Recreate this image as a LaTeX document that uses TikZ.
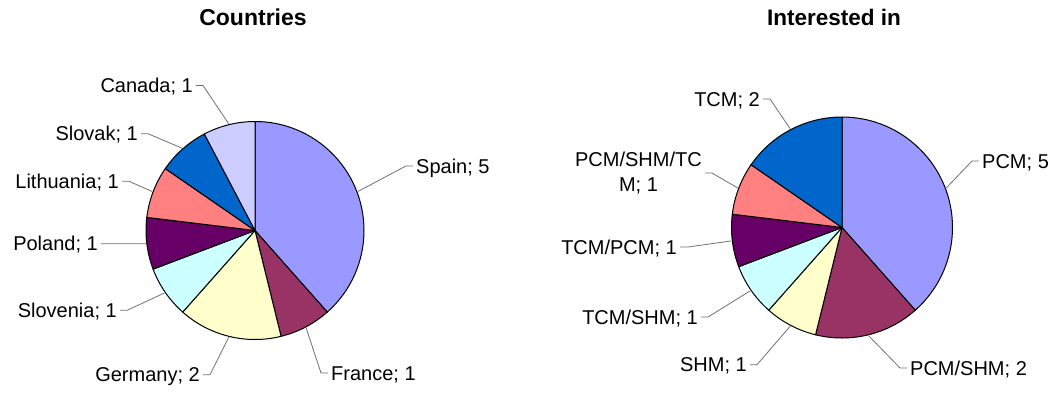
\documentclass[tikz,border=0pt]{standalone}
\usepackage{fontspec}
\setmainfont{Liberation Sans}
\usetikzlibrary{calc}
\definecolor{cA}{HTML}{9999FF}
\definecolor{cB}{HTML}{993366}
\definecolor{cC}{HTML}{FFFFCC}
\definecolor{cD}{HTML}{CCFFFF}
\definecolor{cE}{HTML}{660066}
\definecolor{cF}{HTML}{FF8080}
\definecolor{cG}{HTML}{0066CC}
\definecolor{cH}{HTML}{CCCCFF}
\definecolor{leadgray}{HTML}{707070}
\tikzset{
  lbl/.style={font=\fontsize{20}{25}\selectfont, inner xsep=3pt, inner ysep=0pt, text height=14pt, text depth=0pt},
  lblml/.style={font=\fontsize{20}{25}\selectfont, inner xsep=3pt, inner ysep=0pt, align=center},
  leader/.style={draw=leadgray, line width=0.8pt},
  slice/.style={draw=black, line width=1pt, line join=round},
  ttl/.style={font=\fontsize{23}{28}\selectfont\bfseries, anchor=base, inner sep=0pt}
}
\newcommand{\mypieslice}[5]{% center, radius, start, end, color
  \filldraw[slice, fill=#5] (#1) -- ($(#1)+(#3:#2)$) arc[start angle=#3, end angle=#4, radius=#2] -- cycle;}
\begin{document}
\begin{tikzpicture}[x=1pt,y=1pt]
\useasboundingbox (0,0) rectangle (1057,-392);
% titles
\node[ttl] (t1) at (253,-25) {Countries};
\node[ttl, font=\fontsize{22.5}{27}\selectfont\bfseries] (t2) at (834,-25) {Interested in};
% left pie
\coordinate (L) at (255,-230.5);
\mypieslice{L}{109}{90}{-48.4615}{cA}
\mypieslice{L}{109}{-48.4615}{-76.1538}{cB}
\mypieslice{L}{109}{-76.1538}{-131.5385}{cC}
\mypieslice{L}{109}{-131.5385}{-159.2308}{cD}
\mypieslice{L}{109}{-159.2308}{-186.9231}{cE}
\mypieslice{L}{109}{-186.9231}{-214.6154}{cF}
\mypieslice{L}{109}{-214.6154}{-242.3077}{cG}
\mypieslice{L}{109}{-242.3077}{-270}{cH}
\coordinate (eSpain) at ($(L)+(20.77:110)$);
\coordinate (eFrance) at ($(L)+(-62.31:110)$);
\coordinate (eGermany) at ($(L)+(-103.85:110)$);
\coordinate (eSlovenia) at ($(L)+(-145.38:110)$);
\coordinate (ePoland) at ($(L)+(-173.08:110)$);
\coordinate (eLithuania) at ($(L)+(-200.77:110)$);
\coordinate (eSlovak) at ($(L)+(-228.46:110)$);
\coordinate (eCanada) at ($(L)+(-256.15:110)$);
\node[lbl, anchor=base west] (lSpain) at (413,-173) {Spain; 5};
\node[lbl, anchor=base west] (lFrance) at (328,-380) {France; 1};
\node[lbl, anchor=base east] (lGermany) at (203,-381.7) {Germany; 2};
\node[lbl, anchor=base east] (lSlovenia) at (120,-317.3) {Slovenia; 1};
\node[lbl, anchor=base east] (lPoland) at (101,-250.7) {Poland; 1};
\node[lbl, anchor=base east] (lLithuania) at (122,-188.3) {Lithuania; 1};
\node[lbl, anchor=base east] (lSlovak) at (141,-140.7) {Slovak; 1};
\node[lbl, anchor=base east] (lCanada) at (196,-92.5) {Canada; 1};
\draw[leader] (lSpain.west) -- ++(-7,0) -- (eSpain);
\draw[leader] (lFrance.west) -- ++(-7,0) -- (eFrance);
\draw[leader] (lGermany.east) -- ++(7,0) -- (eGermany);
\draw[leader] (lSlovenia.east) -- ++(7,0) -- (eSlovenia);
\draw[leader] (lPoland.east) -- ++(7,0) -- (ePoland);
\draw[leader] (lLithuania.east) -- ++(7,0) -- (eLithuania);
\draw[leader] (lSlovak.east) -- ++(7,0) -- (eSlovak);
\draw[leader] (lCanada.east) -- ++(7,0) -- (eCanada);
% right pie
\coordinate (R) at (842,-227.5);
\mypieslice{R}{110.5}{90}{-48.4615}{cA}
\mypieslice{R}{110.5}{-48.4615}{-103.8462}{cB}
\mypieslice{R}{110.5}{-103.8462}{-131.5385}{cC}
\mypieslice{R}{110.5}{-131.5385}{-159.2308}{cD}
\mypieslice{R}{110.5}{-159.2308}{-186.9231}{cE}
\mypieslice{R}{110.5}{-186.9231}{-214.6154}{cF}
\mypieslice{R}{110.5}{-214.6154}{-270}{cG}
\coordinate (ePCM) at ($(R)+(20.77:111.5)$);
\coordinate (ePS) at ($(R)+(-76.15:111.5)$);
\coordinate (eSHM) at ($(R)+(-117.69:111.5)$);
\coordinate (eTS) at ($(R)+(-145.38:111.5)$);
\coordinate (eTP) at ($(R)+(-173.08:111.5)$);
\coordinate (ePST) at ($(R)+(-200.77:111.5)$);
\coordinate (eTCM) at ($(R)+(-242.31:111.5)$);
\node[lbl, anchor=base west] (lPCM) at (979,-168) {PCM; 5};
\node[lbl, anchor=base west] (lPS) at (907,-375) {PCM/SHM; 2};
\node[lbl, anchor=base east] (lSHM) at (750,-371.7) {SHM; 1};
\node[lbl, anchor=base east] (lTS) at (701,-324) {TCM/SHM; 1};
\node[lbl, anchor=base east] (lTP) at (680,-254) {TCM/PCM; 1};
\node[lblml, anchor=east] (lPST) at (705,-173) {PCM/SHM/TC\\M; 1};
\node[lbl, anchor=base east] (lTCM) at (763,-106) {TCM; 2};
\draw[leader] (lPCM.west) -- ++(-7,0) -- (ePCM);
\draw[leader] (lPS.west) -- ++(-7,0) -- (ePS);
\draw[leader] (lSHM.east) -- ++(7,0) -- (eSHM);
\draw[leader] (lTS.east) -- ++(7,0) -- (eTS);
\draw[leader] (lTP.east) -- ++(8,0) -- (eTP);
\draw[leader] (lPST.east) -- ++(7,0) -- (ePST);
\draw[leader] (lTCM.east) -- ++(7,0) -- (eTCM);
\end{tikzpicture}
\end{document}
